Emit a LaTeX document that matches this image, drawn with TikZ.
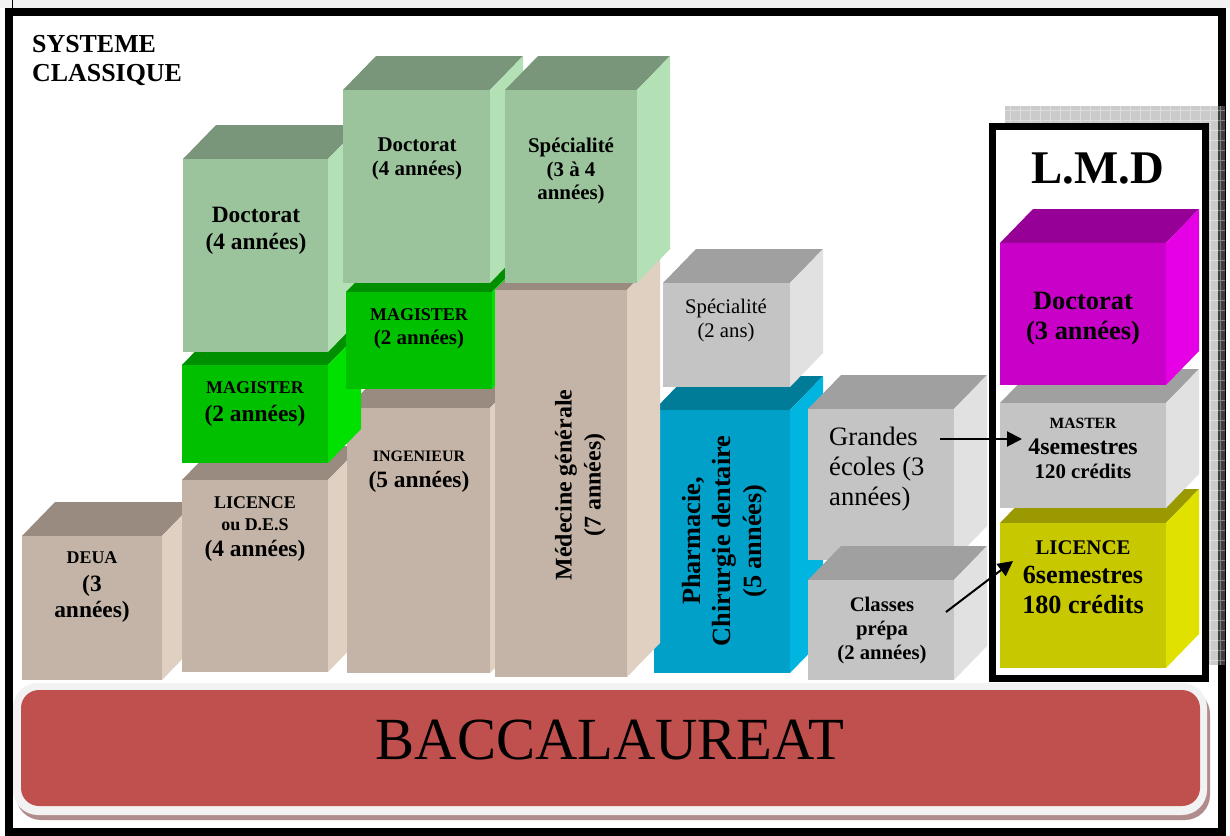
\documentclass[tikz,border=0pt]{standalone}
\usepackage{fontspec}
\setmainfont{Liberation Serif}
\usetikzlibrary{arrows.meta}
\definecolor{tanF}{RGB}{195,180,167}
\definecolor{tanT}{RGB}{153,139,128}
\definecolor{tanS}{RGB}{224,208,194}
\definecolor{pgF}{RGB}{156,196,156}
\definecolor{pgT}{RGB}{122,150,122}
\definecolor{pgS}{RGB}{179,224,181}
\definecolor{bgF}{RGB}{0,192,0}
\definecolor{bgT}{RGB}{0,143,0}
\definecolor{bgS}{RGB}{0,225,0}
\definecolor{gyF}{RGB}{196,196,196}
\definecolor{gyT}{RGB}{160,160,160}
\definecolor{gyS}{RGB}{225,225,225}
\definecolor{cyF}{RGB}{0,160,200}
\definecolor{cyT}{RGB}{0,124,153}
\definecolor{cyS}{RGB}{0,182,224}
\definecolor{mgF}{RGB}{200,0,200}
\definecolor{mgT}{RGB}{150,0,150}
\definecolor{mgS}{RGB}{230,0,230}
\definecolor{ylF}{RGB}{200,200,0}
\definecolor{ylT}{RGB}{154,154,0}
\definecolor{ylS}{RGB}{225,225,0}
\definecolor{bacRed}{RGB}{192,80,77}
\definecolor{rimGray}{RGB}{242,242,242}
\definecolor{bacShadow}{RGB}{176,140,140}
\newcommand\fsz[2]{\fontsize{#1}{#2}\selectfont}
% front x1, top y1, x2, bottom y2, front colour, top colour, side colour
\newcommand\mycube[7]{%
  \fill[#6] (#1,#2) -- (#3,#2) -- ({#3+33},{#2-34}) -- ({#1+33},{#2-34}) -- cycle;
  \fill[#7] (#3,#2) -- ({#3+33},{#2-34}) -- ({#3+33},{#4-34}) -- (#3,#4) -- cycle;
  \fill[#5] (#1,#2) rectangle (#3,#4);
}
\tikzset{
  lbl/.style={inner sep=0pt, align=center, text=black},
  arr/.style={-{Triangle[length=15bp,width=15bp]}, line width=2bp, black},
}
\begin{document}
\begin{tikzpicture}[x=1bp,y=-1bp]
\useasboundingbox (0,0) rectangle (1230,836);
\fill[white] (0,0) rectangle (1230,836);
\fill[rimGray] (0,0) rectangle (1230,8);
\draw[line width=1bp] (12,0) -- (12,8);
% outer frame
\draw[line width=8bp] (9,12) rectangle (1221.5,832);

% baccalaureat bar
\fill[rounded corners=25bp, bacShadow] (16,689) rectangle (1210,820);
\fill[rounded corners=25bp, rimGray] (13,683) rectangle (1207,815);
\fill[rounded corners=18bp, bacRed] (21,690) rectangle (1200,806);
\node[lbl, font=\fsz{60}{70}, xscale=0.98] (bac) at (610,740) {BACCALAUREAT};

% classic system blocks
\mycube{22}{536}{162}{680}{tanF}{tanT}{tanS}
\mycube{182}{480}{328}{672}{tanF}{tanT}{tanS}
\mycube{347}{408}{490}{673}{tanF}{tanT}{tanS}
\mycube{182}{365}{328}{463}{bgF}{bgT}{bgS}
\mycube{183}{159}{328}{352}{pgF}{pgT}{pgS}
\mycube{346}{292}{492}{389}{bgF}{bgT}{bgS}
\mycube{343}{90}{490}{283}{pgF}{pgT}{pgS}
\mycube{654}{410}{790}{673}{cyF}{cyT}{cyS}
\mycube{495}{290}{627}{677}{tanF}{tanT}{tanS}
\mycube{505}{90}{637}{283}{pgF}{pgT}{pgS}
\mycube{663}{283}{790}{387}{gyF}{gyT}{gyS}
\mycube{808}{409}{954}{560}{gyF}{gyT}{gyS}
\mycube{808}{580}{954}{680}{gyF}{gyT}{gyS}

% LMD frame with shadow
\fill[black!45, fill opacity=0.45] (1005,106) rectangle (1225,665);
\draw[white, opacity=0.35, line width=0.6bp, step=10bp] (1005,106) grid (1225,665);
\draw[line width=7bp, fill=white] (992.5,126.5) rectangle (1205.5,678.5);
\mycube{1000}{523}{1166}{668}{ylF}{ylT}{ylS}
\mycube{1000}{403}{1166}{508}{gyF}{gyT}{gyS}
\mycube{1000}{243}{1166}{385}{mgF}{mgT}{mgS}

% labels
\node[lbl, anchor=west, align=left, font=\fsz{26}{30}\bfseries] (sys) at (32,60.5) {SYSTEME\\CLASSIQUE};
\node[lbl, font=\fsz{23.5}{27}\bfseries] (docl) at (256,231) {Doctorat\\(4 années)};
\node[lbl, font=\fsz{21}{24}\bfseries] (docm) at (417,159) {Doctorat\\(4 années)};
\node[lbl, font=\fsz{21}{24}\bfseries] (spec) at (571,171) {Spécialité\\(3 à 4\\années)};
\node[lbl, font=\fsz{21}{24}\bfseries] (magm) at (419,329) {{\fsz{18}{24}MAGISTER}\\(2 années)};
\node[lbl, font=\fsz{23.5}{28}\bfseries] (magl) at (255,404) {{\fsz{18}{28}MAGISTER}\\(2 années)};
\node[lbl, font=\fsz{23.5}{26}\bfseries] (lic) at (255,529) {{\fsz{18}{26}LICENCE}\\[-3pt]{\fsz{18}{26}ou D.E.S}\\(4 années)};
\node[lbl, font=\fsz{23.5}{26}\bfseries] (deua) at (92,587) {{\fsz{18}{26}DEUA}\\[2pt](3\\années)};
\node[lbl, font=\fsz{23.5}{26}\bfseries] (ing) at (419,472) {{\fsz{16}{26}INGENIEUR}\\(5 années)};
\node[lbl, rotate=90, font=\fsz{24}{29}\bfseries] (med) at (580.4,485) {Médecine générale\\(7 années)};
\node[lbl, rotate=90, font=\fsz{26.4}{30.5}\bfseries] (pha) at (724.5,541) {Pharmacie,\\Chirurgie dentaire\\(5 années)};
\node[lbl, font=\fsz{20.8}{25}] (spec2) at (726,320.5) {Spécialité\\(2 ans)};
\node[lbl, anchor=west, align=left, font=\fsz{26.7}{30}] (ge) at (829,469) {Grandes\\écoles (3\\années)};
\node[lbl, font=\fsz{20.8}{24.5}\bfseries] (cp) at (882,630.5) {Classes\\prépa\\(2 années)};
\node[lbl, font=\fsz{47}{50}\bfseries] (lmd) at (1097.5,168) {L.M.D};
\node[lbl, font=\fsz{26.5}{30}\bfseries] (docd) at (1083,318.6) {Doctorat\\(3 années)};
\node[lbl, font=\fsz{23.9}{24}\bfseries] (mas) at (1083,448.4) {{\fsz{15.7}{24}MASTER}\\[3pt]4semestres\\{\fsz{20.9}{24}120 crédits}};
\node[lbl, font=\fsz{26.3}{30}\bfseries] (licl) at (1083,577.6) {{\fsz{20.9}{30}LICENCE}\\[-1pt]6semestres\\180 crédits};

% arrows
\coordinate (a1s) at (940,439);
\coordinate (a1e) at (1022,439);
\coordinate (a2s) at (946,612);
\coordinate (a2e) at (1013,561);
\draw[arr] (a1s) -- (a1e);
\draw[arr] (a2s) -- (a2e);
\end{tikzpicture}
\end{document}
